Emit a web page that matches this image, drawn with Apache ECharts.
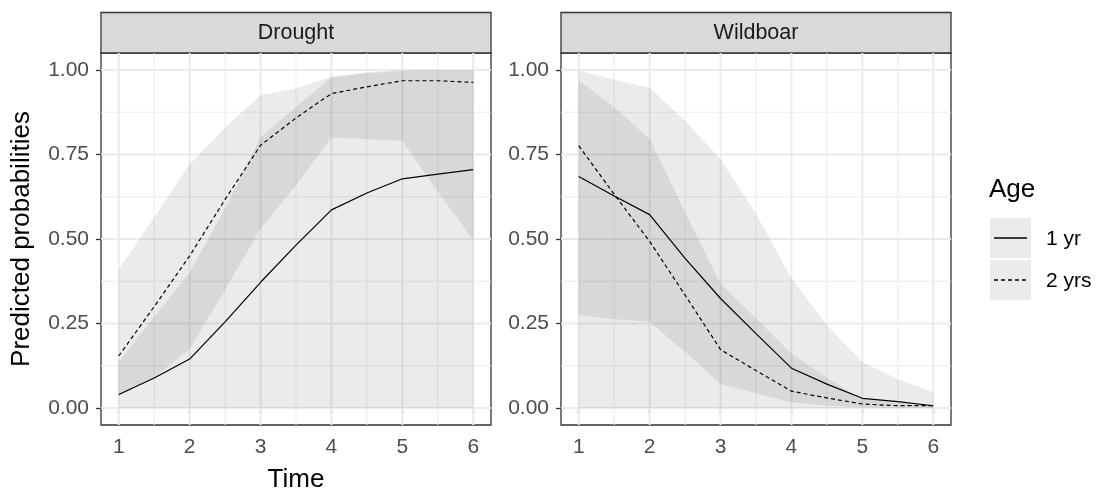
<!DOCTYPE html>
<html>
<head>
<meta charset="utf-8">
<title>Predicted probabilities</title>
<script src="https://cdn.jsdelivr.net/npm/echarts@6.0.0/dist/echarts.min.js"></script>
<style>
  html, body { margin: 0; padding: 0; background: #fff; }
  #chart { width: 1097px; height: 493px; }
</style>
</head>
<body>
<div id="chart"></div>
<script>
// time points
const times = [1, 1.5, 2, 2.5, 3, 3.5, 4, 4.5, 5, 5.5, 6];

// Drought panel
const drought1yr = [0.040, 0.089, 0.145, 0.255, 0.372, 0.482, 0.586, 0.636, 0.678, 0.692, 0.705];
const drought1yrLow = [0, 0, 0, 0, 0, 0, 0, 0, 0, 0, 0];
const drought1yrUp = [0.136, 0.27, 0.40, 0.59, 0.80, 0.89, 0.978, 0.99, 0.997, 0.998, 0.998];
const drought2yr = [0.154, 0.30, 0.45, 0.617, 0.777, 0.858, 0.930, 0.950, 0.968, 0.968, 0.963];
const drought2yrLow = [0.035, 0.09, 0.175, 0.35, 0.53, 0.66, 0.80, 0.795, 0.79, 0.64, 0.497];
const drought2yrUp = [0.41, 0.565, 0.72, 0.83, 0.925, 0.945, 0.98, 0.993, 1.0, 1.0, 1.0];

// Wildboar panel
const wildboar1yr = [0.685, 0.627, 0.572, 0.443, 0.324, 0.22, 0.118, 0.071, 0.029, 0.019, 0.007];
const wildboar1yrLow = [0.275, 0.263, 0.255, 0.166, 0.071, 0.044, 0.017, 0.007, 0.003, 0.002, 0.001];
const wildboar1yrUp = [0.999, 0.971, 0.947, 0.85, 0.736, 0.575, 0.384, 0.245, 0.136, 0.086, 0.047];
const wildboar2yr = [0.776, 0.632, 0.493, 0.334, 0.173, 0.111, 0.05, 0.03, 0.012, 0.007, 0.007];
const wildboar2yrLow = [0, 0, 0, 0, 0, 0, 0, 0, 0, 0, 0];
const wildboar2yrUp = [0.969, 0.89, 0.796, 0.58, 0.368, 0.265, 0.161, 0.09, 0.027, 0.017, 0.01];

// ticks
const xTicks = [1, 2, 3, 4, 5, 6];
const xMinor = [1.5, 2.5, 3.5, 4.5, 5.5];
const yTicks = [0, 0.25, 0.5, 0.75, 1];
const yMinor = [0.125, 0.375, 0.625, 0.875];

const panels = ["Drought", "Wildboar"];
const ageLabels = ["1 yr", "2 yrs"];

const FONT = "Liberation Sans, Arial, sans-serif";
const DASH = [4, 3];

const chart = echarts.init(document.getElementById("chart"), null, { renderer: "canvas" });

// grid lines drawn through the axis scales
// item: [x, y, major, horizontal]
function gridLines(idx) {
  const items = [];
  xTicks.forEach((v) => items.push([v, 0, 1, 0]));
  xMinor.forEach((v) => items.push([v, 0, 0, 0]));
  yTicks.forEach((v) => items.push([1, v, 1, 1]));
  yMinor.forEach((v) => items.push([1, v, 0, 1]));
  return {
    type: "custom",
    xAxisIndex: idx,
    yAxisIndex: idx,
    silent: true,
    z: 1,
    dimensions: ["x", "y", "major", "horiz"],
    encode: { x: 0, y: 1 },
    data: items,
    renderItem: function (params, api) {
      const cs = params.coordSys;
      const major = api.value(2);
      const horiz = api.value(3) === 1;
      const p = api.coord([api.value(0), api.value(1)]);
      const shape = horiz
        ? { x1: cs.x, y1: p[1], x2: cs.x + cs.width, y2: p[1] }
        : { x1: p[0], y1: cs.y, x2: p[0], y2: cs.y + cs.height };
      return {
        type: "line",
        shape: shape,
        style: { stroke: "#EBEBEB", lineWidth: major ? 2 : 1 },
      };
    },
  };
}

// confidence ribbon as one polygon
function ribbon(idx, lower, upper) {
  return {
    type: "custom",
    xAxisIndex: idx,
    yAxisIndex: idx,
    silent: true,
    clip: true,
    z: 2,
    data: [[times[0], lower[0]]],
    renderItem: function (params, api) {
      const pts = [];
      for (let i = 0; i < times.length; i++) pts.push(api.coord([times[i], upper[i]]));
      for (let i = times.length - 1; i >= 0; i--) pts.push(api.coord([times[i], lower[i]]));
      return {
        type: "polygon",
        shape: { points: pts },
        style: { fill: "rgba(0,0,0,0.078)" },
      };
    },
  };
}

function fitLine(idx, name, values, dashed) {
  return {
    name: name,
    type: "line",
    xAxisIndex: idx,
    yAxisIndex: idx,
    z: 3,
    data: times.map((t, i) => [t, values[i]]),
    showSymbol: false,
    silent: true,
    lineStyle: { color: "#000", width: 1.2, type: dashed ? DASH : "solid" },
  };
}

const gridLefts = [101, 561];

const xAxes = gridLefts.map((l, i) => ({
  type: "value",
  gridIndex: i,
  min: 0.75,
  max: 6.25,
  axisLine: { show: false },
  splitLine: { show: false },
  axisTick: { show: true, length: 5, customValues: xTicks, lineStyle: { color: "#333333", width: 1.3 } },
  axisLabel: {
    customValues: xTicks,
    color: "#4D4D4D",
    fontSize: 21,
    fontFamily: FONT,
    margin: 12,
  },
}));

const yAxes = gridLefts.map((l, i) => ({
  type: "value",
  gridIndex: i,
  min: -0.05,
  max: 1.05,
  axisLine: { show: false },
  splitLine: { show: false },
  axisTick: { show: true, length: 5, customValues: yTicks, lineStyle: { color: "#333333", width: 1.3 } },
  axisLabel: {
    customValues: yTicks,
    color: "#4D4D4D",
    fontSize: 21,
    fontFamily: FONT,
    margin: 12,
    formatter: (v) => v.toFixed(2),
  },
}));

// strips, axis titles and legend
const graphics = [];
gridLefts.forEach((l, i) => {
  graphics.push({
    type: "rect",
    shape: { x: l, y: 12.5, width: 390, height: 40.5 },
    style: { fill: "#D9D9D9", stroke: "#333333", lineWidth: 1.3 },
  });
  graphics.push({
    type: "text",
    x: l + 195,
    y: 33,
    style: {
      text: panels[i],
      fill: "#1A1A1A",
      font: "21.5px " + FONT,
      align: "center",
      verticalAlign: "middle",
    },
  });
});
graphics.push({
  type: "text",
  x: 22,
  y: 239,
  rotation: Math.PI / 2,
  style: {
    text: "Predicted probabilities",
    fill: "#000",
    font: "26px " + FONT,
    align: "center",
    verticalAlign: "middle",
  },
});
graphics.push({
  type: "text",
  x: 296,
  y: 480,
  style: { text: "Time", fill: "#000", font: "26px " + FONT, align: "center", verticalAlign: "middle" },
});
graphics.push({
  type: "text",
  x: 989,
  y: 190,
  style: { text: "Age", fill: "#000", font: "26px " + FONT, align: "left", verticalAlign: "middle" },
});
ageLabels.forEach((lab, i) => {
  const top = 218 + i * 42;
  graphics.push({
    type: "rect",
    shape: { x: 990, y: top, width: 41, height: 40 },
    style: { fill: "#EBEBEB" },
  });
  graphics.push({
    type: "line",
    shape: { x1: 994, y1: top + 20, x2: 1027, y2: top + 20 },
    style: { stroke: "#000", lineWidth: 1.3, lineDash: i ? DASH : null },
  });
  graphics.push({
    type: "text",
    x: 1046,
    y: top + 21,
    style: { text: lab, fill: "#000", font: "21px " + FONT, align: "left", verticalAlign: "middle" },
  });
});

const option = {
  animation: false,
  backgroundColor: "#fff",
  grid: gridLefts.map((l) => ({
    left: l,
    top: 53,
    width: 390,
    height: 372,
    show: true,
    backgroundColor: "#fff",
    borderColor: "#333333",
    borderWidth: 1.3,
  })),
  xAxis: xAxes,
  yAxis: yAxes,
  graphic: graphics,
  series: [
    gridLines(0),
    gridLines(1),
    ribbon(0, drought1yrLow, drought1yrUp),
    ribbon(0, drought2yrLow, drought2yrUp),
    ribbon(1, wildboar1yrLow, wildboar1yrUp),
    ribbon(1, wildboar2yrLow, wildboar2yrUp),
    fitLine(0, ageLabels[0], drought1yr, false),
    fitLine(0, ageLabels[1], drought2yr, true),
    fitLine(1, ageLabels[0], wildboar1yr, false),
    fitLine(1, ageLabels[1], wildboar2yr, true),
  ],
};

chart.setOption(option);
</script>
</body>
</html>
